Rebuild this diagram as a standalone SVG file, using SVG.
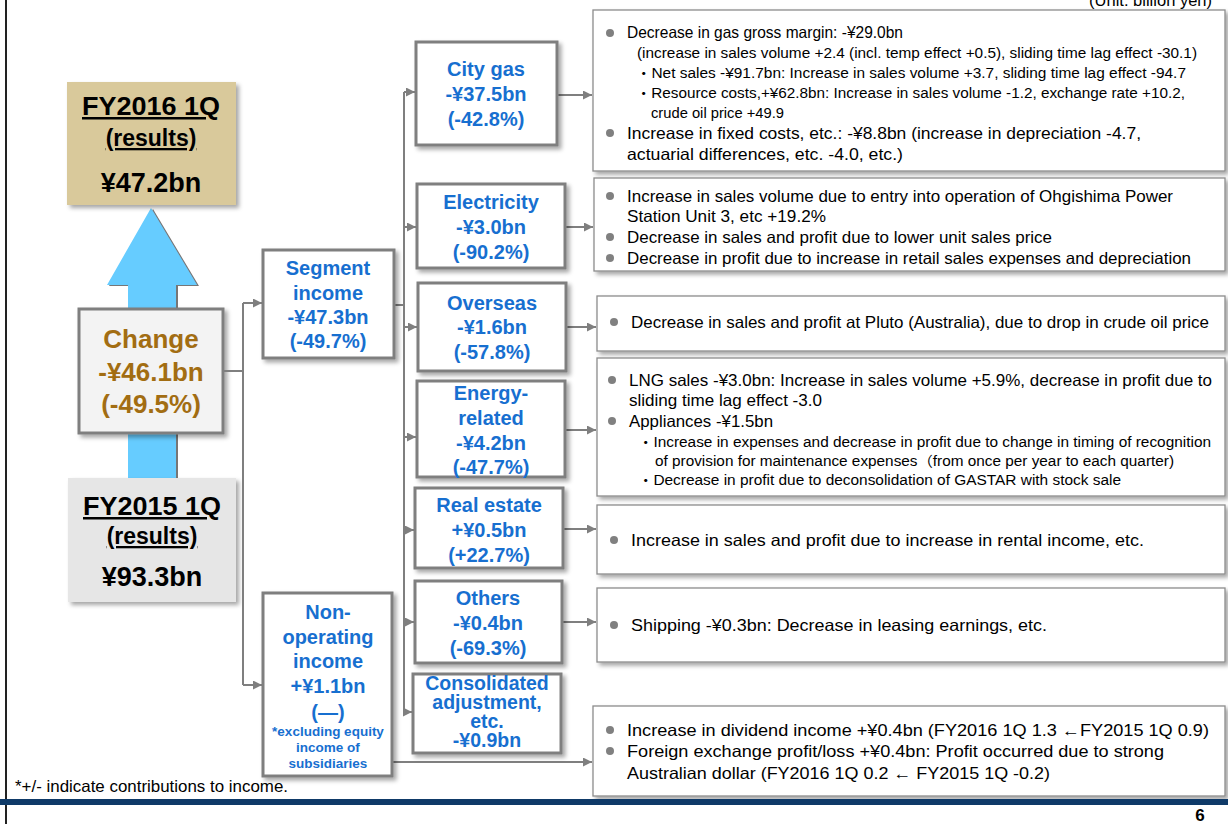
<svg xmlns="http://www.w3.org/2000/svg" width="1228" height="824" viewBox="0 0 1228 824">
<defs>
<filter id="sh" x="-10%" y="-10%" width="125%" height="125%"><feDropShadow dx="3" dy="3" stdDeviation="2" flood-color="#000" flood-opacity="0.35"/></filter>
<filter id="ash" x="-10%" y="-10%" width="130%" height="120%"><feDropShadow dx="2" dy="1" stdDeviation="0.6" flood-color="#555" flood-opacity="0.8"/></filter>
<marker id="ar" viewBox="0 0 10 10" refX="10" refY="5" markerWidth="10" markerHeight="9" markerUnits="userSpaceOnUse" orient="auto"><path d="M0,0 L10,5 L0,10 z" fill="#7f7f7f"/></marker>
</defs>
<style>
text{font-family:"Liberation Sans",Arial,"Noto Sans CJK JP",sans-serif}
.bt{font-weight:bold;fill:#000;text-anchor:middle}
.ch{font-weight:bold;fill:#a26d12;text-anchor:middle;font-size:26px}
.sg{font-weight:bold;fill:#176fd0;text-anchor:middle;font-size:20px}
.sc{font-weight:bold;fill:#176fd0;text-anchor:middle;font-size:19.5px}
.sm{font-weight:bold;fill:#176fd0;text-anchor:middle;font-size:13.5px}
.sb{fill:#fff;stroke:#7f7f7f;stroke-width:3}
.db{fill:#fff;stroke:#8c8c8c;stroke-width:1.3}
.d{font-size:16.5px;fill:#000}
.s{font-size:14px;fill:#000}
.bu{fill:#808080}
.cn{fill:none;stroke:#7f7f7f;stroke-width:2}
</style>
<rect width="1228" height="824" fill="#fff"/>
<line x1="6" y1="0" x2="6" y2="824" stroke="#222" stroke-width="2"/>
<text x="1212" y="6" class="d" text-anchor="end" font-size="15">(Unit: billion yen)</text>

<g id="arrow"><polygon points="151,208 197,285 176,285 176,478 128,478 128,285 107,285" fill="#66ccff" filter="url(#ash)"/></g>

<g id="fy2016">
<rect x="67" y="82" width="169" height="123" fill="#d9c99b" filter="url(#sh)"/>
<text x="151" y="115" class="bt" font-size="25" textLength="138" lengthAdjust="spacingAndGlyphs" text-decoration="underline">FY2016 1Q</text>
<text x="151" y="146" class="bt" font-size="23" text-decoration="underline">(results)</text>
<text x="151" y="192" class="bt" font-size="27">¥47.2bn</text>
</g>

<g id="change">
<rect x="79" y="309" width="144" height="124" fill="#f3f3f3" stroke="#7f7f7f" stroke-width="3" filter="url(#sh)"/>
<text x="151" y="348" class="ch">Change</text>
<text x="151" y="381" class="ch">-¥46.1bn</text>
<text x="151" y="413" class="ch">(-49.5%)</text>
</g>

<g id="fy2015">
<rect x="68" y="478" width="168" height="124" fill="#e6e6e6" filter="url(#sh)"/>
<text x="152" y="515" class="bt" font-size="25" textLength="138" lengthAdjust="spacingAndGlyphs" text-decoration="underline">FY2015 1Q</text>
<text x="152" y="544" class="bt" font-size="23" text-decoration="underline">(results)</text>
<text x="152" y="586" class="bt" font-size="27">¥93.3bn</text>
</g>

<g id="connectors">
<polyline class="cn" points="223,371 243,371"/>
<polyline class="cn" points="243,303 243,685"/>
<line class="cn" x1="243" y1="303" x2="262" y2="303" marker-end="url(#ar)"/>
<line class="cn" x1="243" y1="685" x2="262" y2="685" marker-end="url(#ar)"/>
<line class="cn" x1="394" y1="305" x2="404" y2="305"/>
<line class="cn" x1="404" y1="92" x2="404" y2="712"/>
<line class="cn" x1="404" y1="92" x2="415" y2="92" marker-end="url(#ar)"/>
<line class="cn" x1="404" y1="227" x2="416" y2="227" marker-end="url(#ar)"/>
<line class="cn" x1="404" y1="327" x2="417" y2="327" marker-end="url(#ar)"/>
<line class="cn" x1="404" y1="437" x2="416" y2="437" marker-end="url(#ar)"/>
<line class="cn" x1="404" y1="530" x2="414" y2="530" marker-end="url(#ar)"/>
<line class="cn" x1="404" y1="622" x2="414" y2="622" marker-end="url(#ar)"/>
<line class="cn" x1="404" y1="712" x2="412" y2="712" marker-end="url(#ar)"/>
<line class="cn" x1="557" y1="95" x2="592" y2="95" marker-end="url(#ar)"/>
<line class="cn" x1="565" y1="227" x2="593" y2="227" marker-end="url(#ar)"/>
<line class="cn" x1="566" y1="327" x2="596" y2="327" marker-end="url(#ar)"/>
<line class="cn" x1="565" y1="430" x2="596" y2="430" marker-end="url(#ar)"/>
<line class="cn" x1="563" y1="529" x2="596" y2="529" marker-end="url(#ar)"/>
<line class="cn" x1="562" y1="622" x2="596" y2="622" marker-end="url(#ar)"/>
<line class="cn" x1="392" y1="762" x2="592" y2="762" marker-end="url(#ar)"/>
</g>

<g id="segment">
<rect class="sb" x="263" y="250" width="131" height="108" filter="url(#sh)"/>
<text x="328" y="275" class="sg">Segment</text>
<text x="328" y="300" class="sg">income</text>
<text x="328" y="324" class="sg">-¥47.3bn</text>
<text x="328" y="348" class="sg">(-49.7%)</text>
</g>

<g id="nonop">
<rect class="sb" x="263" y="593" width="129" height="183" filter="url(#sh)"/>
<text x="328" y="619" class="sg">Non-</text>
<text x="328" y="644" class="sg">operating</text>
<text x="328" y="668" class="sg">income</text>
<text x="328" y="693" class="sg">+¥1.1bn</text>
<text x="328" y="719" class="sg">(—)</text>
<text x="328" y="736" class="sm">*excluding equity</text>
<text x="328" y="752" class="sm">income of</text>
<text x="328" y="768" class="sm">subsidiaries</text>
</g>

<g id="citygas">
<rect class="sb" x="416" y="42" width="141" height="103" filter="url(#sh)"/>
<text x="486" y="76" class="sg">City gas</text>
<text x="486" y="101" class="sg">-¥37.5bn</text>
<text x="486" y="126" class="sg">(-42.8%)</text>
</g>
<g id="electricity">
<rect class="sb" x="417" y="184" width="148" height="84" filter="url(#sh)"/>
<text x="491" y="209" class="sg">Electricity</text>
<text x="491" y="234" class="sg">-¥3.0bn</text>
<text x="491" y="259" class="sg">(-90.2%)</text>
</g>
<g id="overseas">
<rect class="sb" x="418" y="283" width="148" height="88" filter="url(#sh)"/>
<text x="492" y="310" class="sg">Overseas</text>
<text x="492" y="334" class="sg">-¥1.6bn</text>
<text x="492" y="359" class="sg">(-57.8%)</text>
</g>
<g id="energy">
<rect class="sb" x="417" y="381" width="148" height="96" filter="url(#sh)"/>
<text x="491" y="400" class="sg">Energy-</text>
<text x="491" y="425" class="sg">related</text>
<text x="491" y="450" class="sg">-¥4.2bn</text>
<text x="491" y="474" class="sg">(-47.7%)</text>
</g>
<g id="realestate">
<rect class="sb" x="415" y="488" width="148" height="80" filter="url(#sh)"/>
<text x="489" y="512" class="sg">Real estate</text>
<text x="489" y="537" class="sg">+¥0.5bn</text>
<text x="489" y="562" class="sg">(+22.7%)</text>
</g>
<g id="others">
<rect class="sb" x="415" y="581" width="147" height="82" filter="url(#sh)"/>
<text x="488" y="605" class="sg">Others</text>
<text x="488" y="630" class="sg">-¥0.4bn</text>
<text x="488" y="655" class="sg">(-69.3%)</text>
</g>
<g id="consolidated">
<rect class="sb" x="413" y="674" width="148" height="79" filter="url(#sh)"/>
<text x="487" y="690" class="sc">Consolidated</text>
<text x="487" y="709" class="sc">adjustment,</text>
<text x="487" y="728" class="sc">etc.</text>
<text x="487" y="747" class="sc">-¥0.9bn</text>
</g>

<g id="citygas-desc">
<rect class="db" x="593" y="10" width="632" height="161" filter="url(#sh)"/>
<circle class="bu" cx="610" cy="33" r="4"/>
<text x="627" y="38" class="d" textLength="276" lengthAdjust="spacingAndGlyphs">Decrease in gas gross margin: -¥29.0bn</text>
<text x="637" y="58" class="s" textLength="560" lengthAdjust="spacingAndGlyphs">(increase in sales volume +2.4 (incl. temp effect +0.5), sliding time lag effect -30.1)</text>
<text x="636" y="78" class="s" textLength="550" lengthAdjust="spacingAndGlyphs">・Net sales  -¥91.7bn: Increase in sales volume +3.7, sliding time lag effect -94.7</text>
<text x="636" y="98" class="s" textLength="549" lengthAdjust="spacingAndGlyphs">・Resource costs,+¥62.8bn: Increase in sales volume -1.2, exchange rate +10.2,</text>
<text x="651" y="118" class="s" textLength="133" lengthAdjust="spacingAndGlyphs">crude oil price +49.9</text>
<circle class="bu" cx="610" cy="133" r="4"/>
<text x="627" y="139" class="d" textLength="514" lengthAdjust="spacingAndGlyphs">Increase in fixed costs, etc.: -¥8.8bn (increase in depreciation -4.7,</text>
<text x="627" y="160" class="d" textLength="276" lengthAdjust="spacingAndGlyphs">actuarial differences, etc. -4.0, etc.)</text>
</g>
<g id="electricity-desc">
<rect class="db" x="594" y="178" width="631" height="93" filter="url(#sh)"/>
<circle class="bu" cx="610" cy="196" r="4"/>
<text x="627" y="202" class="d" textLength="546" lengthAdjust="spacingAndGlyphs">Increase in sales volume due to entry into operation of Ohgishima Power</text>
<text x="627" y="222" class="d" textLength="199" lengthAdjust="spacingAndGlyphs">Station Unit 3, etc +19.2%</text>
<circle class="bu" cx="610" cy="237" r="4"/>
<text x="627" y="243" class="d" textLength="425" lengthAdjust="spacingAndGlyphs">Decrease in sales and profit due to lower unit sales price</text>
<circle class="bu" cx="610" cy="258" r="4"/>
<text x="627" y="264" class="d" textLength="564" lengthAdjust="spacingAndGlyphs">Decrease in profit due to increase in retail sales expenses and depreciation</text>
</g>
<g id="overseas-desc">
<rect class="db" x="597" y="296" width="628" height="55" filter="url(#sh)"/>
<circle class="bu" cx="614" cy="322" r="4"/>
<text x="631" y="328" class="d" textLength="578" lengthAdjust="spacingAndGlyphs">Decrease in sales and profit at Pluto (Australia), due to drop in crude oil price</text>
</g>
<g id="energy-desc">
<rect class="db" x="597" y="358" width="628" height="138" filter="url(#sh)"/>
<circle class="bu" cx="612" cy="380" r="4"/>
<text x="629" y="386" class="d" textLength="583" lengthAdjust="spacingAndGlyphs">LNG sales -¥3.0bn: Increase in sales volume +5.9%, decrease in profit due to</text>
<text x="629" y="406" class="d" textLength="193" lengthAdjust="spacingAndGlyphs">sliding time lag effect -3.0</text>
<circle class="bu" cx="612" cy="421" r="4"/>
<text x="629" y="427" class="d" textLength="144" lengthAdjust="spacingAndGlyphs">Appliances -¥1.5bn</text>
<text x="638" y="447" class="s" textLength="573" lengthAdjust="spacingAndGlyphs">・Increase in expenses and decrease in profit due to change in timing of recognition</text>
<text x="655" y="466" class="s" textLength="519" lengthAdjust="spacingAndGlyphs">of provision for maintenance expenses（from once per year to each quarter)</text>
<text x="638" y="485" class="s" textLength="483" lengthAdjust="spacingAndGlyphs">・Decrease in profit due to deconsolidation of GASTAR with stock sale</text>
</g>
<g id="realestate-desc">
<rect class="db" x="597" y="505" width="628" height="69" filter="url(#sh)"/>
<circle class="bu" cx="614" cy="540" r="4"/>
<text x="631" y="546" class="d" textLength="513" lengthAdjust="spacingAndGlyphs">Increase in sales and profit due to increase in rental income, etc.</text>
</g>
<g id="others-desc">
<rect class="db" x="597" y="588" width="628" height="74" filter="url(#sh)"/>
<circle class="bu" cx="614" cy="625" r="4"/>
<text x="631" y="631" class="d" textLength="416" lengthAdjust="spacingAndGlyphs">Shipping -¥0.3bn: Decrease in leasing earnings, etc.</text>
</g>
<g id="nonop-desc">
<rect class="db" x="593" y="706" width="632" height="90" filter="url(#sh)"/>
<circle class="bu" cx="610" cy="730" r="4"/>
<text x="627" y="736" class="d" textLength="582" lengthAdjust="spacingAndGlyphs">Increase in dividend income  +¥0.4bn (FY2016 1Q 1.3 ←FY2015 1Q 0.9)</text>
<circle class="bu" cx="610" cy="751" r="4"/>
<text x="627" y="757" class="d" textLength="537" lengthAdjust="spacingAndGlyphs">Foreign exchange profit/loss  +¥0.4bn: Profit occurred due to strong</text>
<text x="627" y="779" class="d" textLength="423" lengthAdjust="spacingAndGlyphs">Australian dollar (FY2016 1Q 0.2 ← FY2015 1Q -0.2)</text>
</g>

<text x="15" y="792" class="d" font-size="15.5" textLength="273" lengthAdjust="spacingAndGlyphs">*+/- indicate contributions to income.</text>
<rect x="0" y="799" width="1228" height="6" fill="#0f3a68"/>
<text x="1200" y="821" text-anchor="middle" font-weight="bold" font-size="17" fill="#000">6</text>
</svg>
